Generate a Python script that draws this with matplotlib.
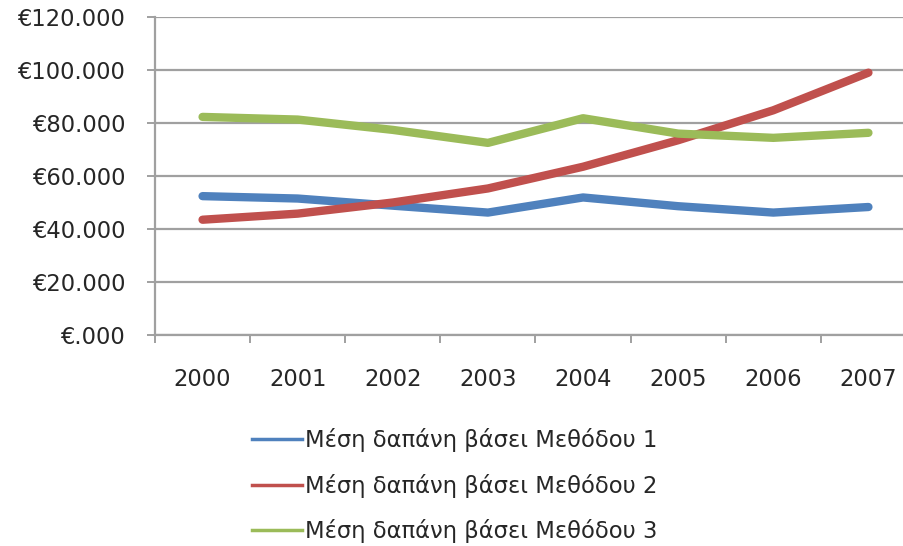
import matplotlib
matplotlib.use("Agg")
import matplotlib.pyplot as plt
from matplotlib.lines import Line2D

years = ['2000', '2001', '2002', '2003', '2004', '2005', '2006', '2007']
method1 = [52400, 51500, 48800, 46200, 51900, 48600, 46200, 48300]
method2 = [43500, 45800, 50000, 55300, 63500, 73500, 84800, 99000]
method3 = [82300, 81300, 77400, 72500, 81800, 76000, 74400, 76300]
series_labels = ['Μέση δαπάνη βάσει Μεθόδου 1',
                 'Μέση δαπάνη βάσει Μεθόδου 2',
                 'Μέση δαπάνη βάσει Μεθόδου 3']
yticks = [0, 20000, 40000, 60000, 80000, 100000, 120000]
ytick_labels = ['€.000', '€20.000', '€40.000', '€60.000', '€80.000', '€100.000', '€120.000']

colors = ['#4F81BD', '#C0504D', '#9BBB59']
grid_col = '#A0A0A0'
txt_col = '#262626'
fs = 16.3

plt.rcParams['font.family'] = ['DejaVu Sans']
fig = plt.figure(figsize=(9.04, 5.46), dpi=100)
W, H = 904, 546
left, top, right, bottom = 155, 17, 916, 335
ax = fig.add_axes([left / W, 1 - bottom / H, (right - left) / W, (bottom - top) / H])

x = list(range(len(years)))
for vals, c in zip([method1, method2, method3], colors):
    ax.plot(x, vals, color=c, lw=6, solid_capstyle='round', solid_joinstyle='round', zorder=3)

ax.set_xlim(-0.5, len(years) - 0.5)
ax.set_ylim(0, 120000)
ax.set_yticks(yticks)
ax.set_yticklabels(ytick_labels, fontsize=fs, color=txt_col)
ax.yaxis.grid(True, color=grid_col, lw=1.6, zorder=1)
ax.set_axisbelow(True)

ax.set_xticks([i - 0.5 for i in range(len(years) + 1)])
ax.set_xticklabels([])
ax.set_xticks(x, minor=True)
ax.set_xticklabels(years, minor=True, fontsize=fs, color=txt_col)
ax.tick_params(axis='x', which='major', length=6, width=1.4, color=grid_col, direction='out')
ax.tick_params(axis='x', which='minor', length=0, pad=23.5)
ax.tick_params(axis='y', length=6, width=1.4, color=grid_col, pad=15.5)

for s in ['top', 'right']:
    ax.spines[s].set_visible(False)
for s in ['left', 'bottom']:
    ax.spines[s].set_color(grid_col)
    ax.spines[s].set_linewidth(1.6)

handles = [Line2D([0], [0], color=c, lw=2.5) for c in colors]
leg = fig.legend(handles, series_labels, loc='upper left', bbox_to_anchor=(252 / W, 1 - 428 / H),
                 frameon=False, fontsize=fs, handlelength=2.2, handletextpad=0.13,
                 labelspacing=0.95, borderaxespad=0, borderpad=0)
for t in leg.get_texts():
    t.set_color(txt_col)

fig.savefig('out.png', dpi=100)
